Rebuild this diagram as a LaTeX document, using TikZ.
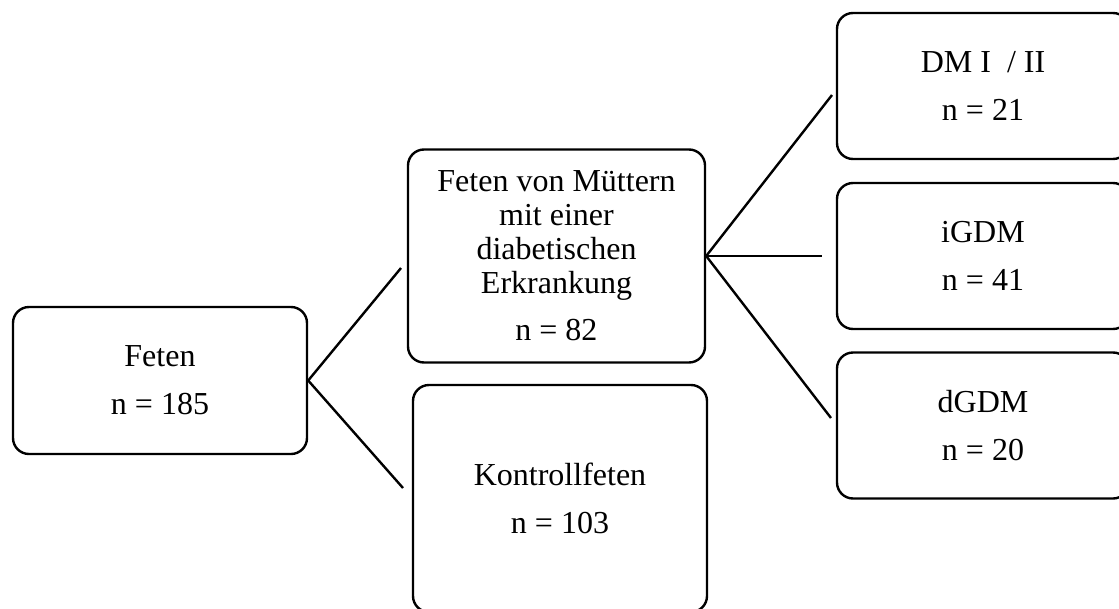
\documentclass[tikz,border=0pt]{standalone}
\usepackage{fontspec}
\setmainfont{Liberation Serif}
\begin{document}
\begin{tikzpicture}[x=1pt,y=-1pt,
  box/.style={draw, line width=2.4pt, rounded corners=16pt, align=center,
    font=\fontsize{32}{34}\selectfont, inner sep=0pt},
  conn/.style={line width=2.4pt}]
\useasboundingbox (0,0) rectangle (1119,608);
\node[box, minimum width=294pt, minimum height=147pt] (feten) at (160,380.5) {Feten\\[14pt]n = 185};
\node[box, minimum width=297pt, minimum height=213pt] (mid) at (556.5,256) {Feten von Müttern\\mit einer\\diabetischen\\Erkrankung\\[13pt]n = 82};
\node[box, minimum width=294pt, minimum height=227pt] (kontroll) at (560,498.5) {Kontrollfeten\\[14pt]n = 103};
\node[box, minimum width=292pt, minimum height=146pt] (dm) at (983,86) {DM I~ / II\\[14pt]n = 21};
\node[box, minimum width=292pt, minimum height=146pt] (igdm) at (983,256) {iGDM\\[14pt]n = 41};
\node[box, minimum width=292pt, minimum height=146pt] (dgdm) at (983,425.5) {dGDM\\[14pt]n = 20};
\coordinate (a1) at (401,268);
\coordinate (a2) at (403,488);
\coordinate (b1) at (832,95);
\coordinate (b2) at (822,256);
\coordinate (b3) at (831,418);
\draw[conn] (a1) -- (feten.east) -- (a2);
\draw[conn] (b1) -- (mid.east) -- (b3);
\draw[conn] (mid.east) -- (b2);
\end{tikzpicture}
\end{document}
